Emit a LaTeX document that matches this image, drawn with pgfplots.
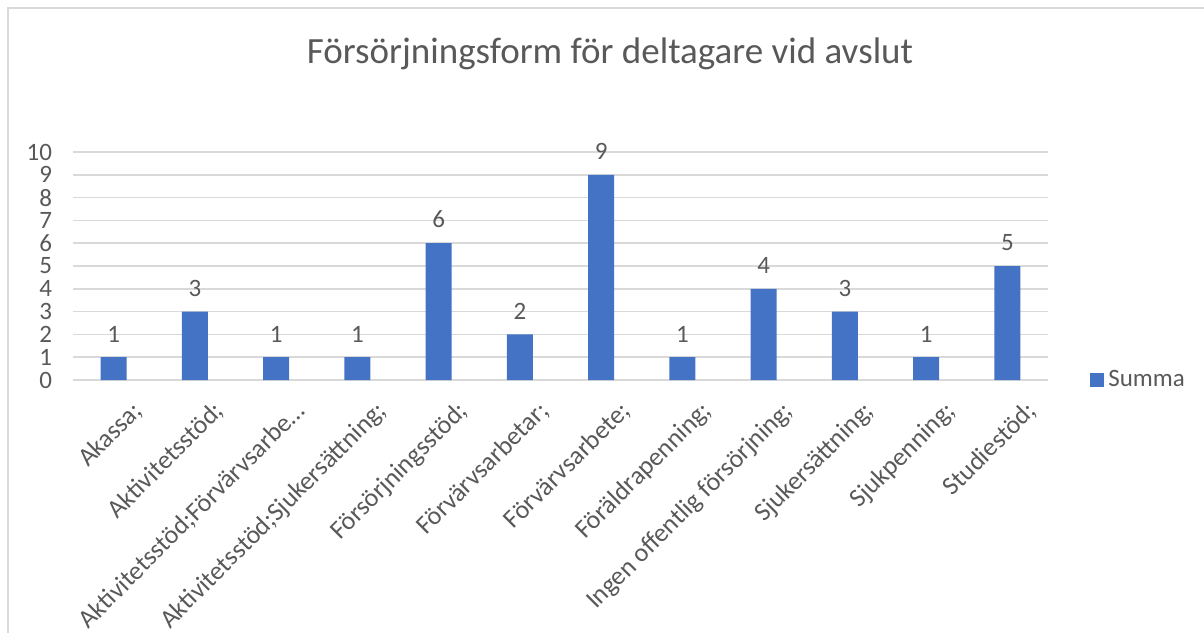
\documentclass[border=0pt]{standalone}
\usepackage{pgfplots}
\pgfplotsset{compat=1.18}
\usepackage{fontspec}
\setmainfont{Carlito}

\definecolor{barblue}{HTML}{4472C4}
\definecolor{gridgray}{HTML}{D9D9D9}
\definecolor{textgray}{HTML}{595959}

\begin{document}
\begin{tikzpicture}
\useasboundingbox (-36.5pt,-126pt) rectangle (565.5pt,190pt);
\draw[gridgray, line width=0.8pt] (-32.5pt,-130pt) -- (-32.5pt,186pt) -- (570pt,186pt);

\begin{axis}[
    at={(0pt,0pt)}, anchor=south west,
    scale only axis,
    width=487.5pt, height=114pt,
    ybar, bar width=13pt,
    xmin=-0.5, xmax=11.5,
    ymin=0, ymax=10,
    ytick={0,1,...,10},
    xtick={0,1,...,11},
    xticklabels={Akassa;,Aktivitetsstöd;,Aktivitetsstöd;Förvärvsarbe…,Aktivitetsstöd;Sjukersättning;,Försörjningsstöd;,Förvärvsarbetar;,Förvärvsarbete;,Föräldrapenning;,Ingen offentlig försörjning;,Sjukersättning;,Sjukpenning;,Studiestöd;},
    major tick length=0pt,
    axis line style={draw=none},
    ymajorgrids,
    grid style={gridgray, line width=0.8pt},
    tick label style={font=\fontsize{12.5}{12.5}\selectfont, text=textgray},
    /pgf/number format/assume math mode=true,
    yticklabel style={xshift=-7pt},
    xticklabel style={rotate=45, anchor=north east, xshift=2.7pt, yshift=-9.5pt, font=\fontsize{13}{13}\selectfont},
    nodes near coords,
    nodes near coords style={font=\fontsize{12.5}{12.5}\selectfont, text=textgray, yshift=4pt},
    title={Försörjningsform för deltagare vid avslut},
    title style={at={(0.5508,1.377)}, anchor=center, font=\fontsize{18.5}{18.5}\selectfont, text=textgray},
    legend style={at={(1.043,0)}, anchor=west, draw=none, fill=none, font=\fontsize{12.5}{12.5}\selectfont, text=textgray, inner sep=0pt},
    legend image code/.code={\fill[#1] (0pt,-3.5pt) rectangle (7pt,3.5pt);},
]
\addplot[fill=barblue, draw=none] coordinates {
(0,1) (1,3) (2,1) (3,1) (4,6) (5,2) (6,9) (7,1) (8,4) (9,3) (10,1) (11,5)
};
\addlegendentry{Summa}
\end{axis}
\end{tikzpicture}
\end{document}
